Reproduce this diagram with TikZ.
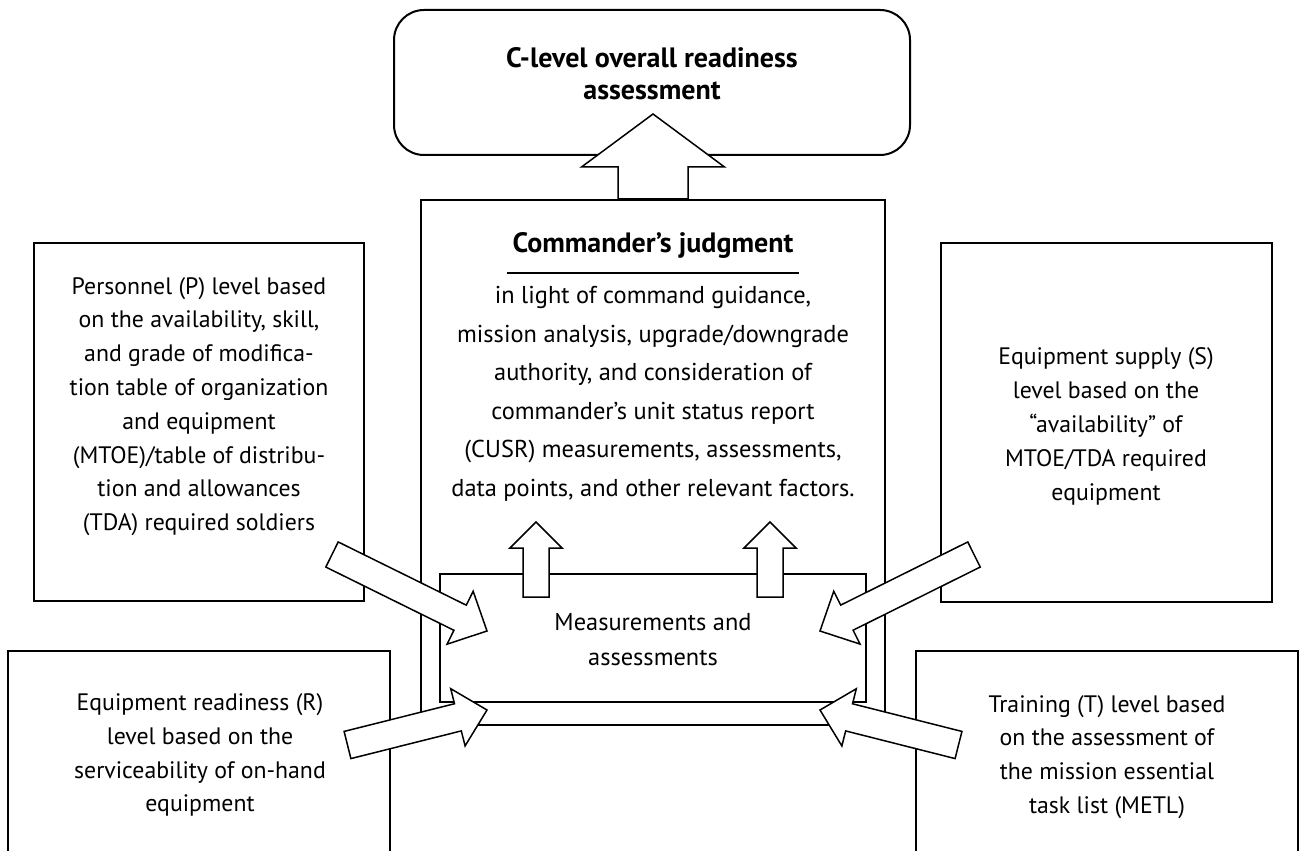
\documentclass[tikz,border=0pt]{standalone}
\usepackage{fontspec}
\setmainfont{PT Sans}
\usetikzlibrary{calc}

% block arrow: tail, tip, half shaft, half head, head length
\newcommand\blockarrow[5]{%
  \coordinate (hb) at ($(#2)!#5!(#1)$);
  \draw[barrow] ($(#1)!#3!90:(#2)$) -- ($(hb)!#3!90:(#2)$) -- ($(hb)!#4!90:(#2)$) -- (#2)
    -- ($(hb)!#4!-90:(#2)$) -- ($(hb)!#3!-90:(#2)$) -- ($(#1)!#3!-90:(#2)$) -- cycle;
}

\begin{document}
\begin{tikzpicture}[x=0.5pt,y=-0.5pt,
	box/.style={draw,line width=1pt,inner sep=0pt},
	txt/.style={align=center,font=\fontsize{11.9}{16.9}\selectfont},
	head/.style={align=center,font=\bfseries\fontsize{14}{16}\selectfont},
	barrow/.style={draw,fill=white,line width=0.75pt,line join=miter}]
	\useasboundingbox (0,0) rectangle (1299,850);
	\clip (0,0) rectangle (1299,850);

	% boxes
	\node[box,rounded corners=15pt,minimum width=258pt,minimum height=72.5pt] (top) at (652,82.5) {};
	\node[box,minimum width=232pt,minimum height=262.5pt] (cmd) at (653,462.5) {};
	\node[box,minimum width=213pt,minimum height=64pt] (meas) at (653,638) {};
	\node[box,minimum width=165pt,minimum height=179pt] (pers) at (199,422) {};
	\node[box,minimum width=165.5pt,minimum height=179.5pt] (supp) at (1106.5,422.5) {};
	\node[box,minimum width=191pt,minimum height=109.5pt] (ready) at (199,760.5) {};
	\node[box,minimum width=191pt,minimum height=109.5pt] (train) at (1107,760.5) {};

	% texts
	\node[head] (top-t) at (652,74) {C-level overall readiness\\assessment};
	\node[head] (cmd-h) at (653,245) {Commander’s judgment};
	\draw[line width=1.3pt] (507,273) -- (799,273);
	\node[txt,font=\fontsize{12.2}{19.25}\selectfont] (cmd-t) at (653,394) {in light of command guidance,\\mission analysis, upgrade/downgrade\\authority, and consideration of\\commander’s unit status report\\(CUSR) measurements, assessments,\\data points, and other relevant factors.};
	\node[txt,font=\fontsize{12.2}{17.5}\selectfont] (meas-t) at (653,639.5) {Measurements and\\assessments};
	\node[txt] (pers-t) at (199,406.5) {Personnel (P) level based\\on the availability, skill,\\and grade of modifica-\\tion table of organization\\and equipment\\(MTOE)/table of distribu-\\tion and allowances\\(TDA) required soldiers};
	\node[txt] (supp-t) at (1106,426.5) {Equipment supply (S)\\level based on the\\“availability” of\\MTOE/TDA required\\equipment};
	\node[txt] (ready-t) at (200,755) {Equipment readiness (R)\\level based on the\\serviceability of on-hand\\equipment};
	\node[txt] (train-t) at (1107,757) {Training (T) level based\\on the assessment of\\the mission essential\\task list (METL)};

	% arrow ends
	\coordinate (c-tail) at (cmd.north);
	\coordinate (c-tip) at (653,114);
	\coordinate (m1-tail) at (536,597);
	\coordinate (m1-tip) at (536,522);
	\coordinate (m2-tail) at (770,597);
	\coordinate (m2-tip) at (770,522);
	\coordinate (p-tail) at (332,554.5);
	\coordinate (p-tip) at (487,631);
	\coordinate (s-tail) at (974,554.5);
	\coordinate (s-tip) at (820,631);
	\coordinate (r-tail) at (347.5,745);
	\coordinate (r-tip) at (487,710);
	\coordinate (t-tail) at (958.5,745);
	\coordinate (t-tip) at (820,710);

	% block arrows
	\blockarrow{c-tail}{c-tip}{17.5pt}{35.75pt}{26.5pt}
	\blockarrow{m1-tail}{m1-tip}{6.5pt}{13pt}{13pt}
	\blockarrow{m2-tail}{m2-tip}{6.5pt}{13pt}{13pt}
	\blockarrow{p-tail}{p-tip}{7pt}{14.75pt}{15pt}
	\blockarrow{s-tail}{s-tip}{7pt}{14.75pt}{15pt}
	\blockarrow{r-tail}{r-tip}{7pt}{14.75pt}{15pt}
	\blockarrow{t-tail}{t-tip}{7pt}{14.75pt}{15pt}
\end{tikzpicture}
\end{document}
